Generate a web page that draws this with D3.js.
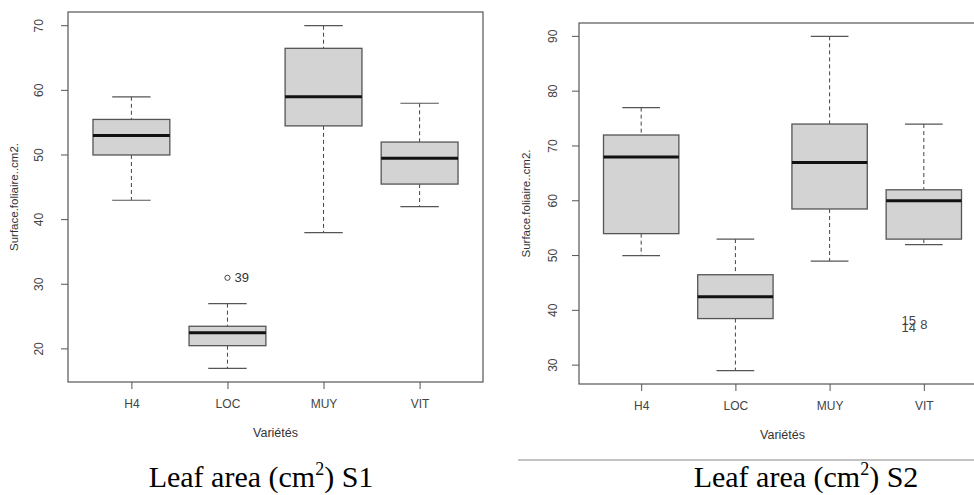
<!DOCTYPE html>
<html>
<head>
<meta charset="utf-8">
<script src="https://cdn.jsdelivr.net/npm/d3@7"></script>
<style>
  body { margin: 0; background: #fff; }
  svg { display: block; }
</style>
</head>
<body>
<div id="chart"></div>
<script>
const varietes = ['H4', 'LOC', 'MUY', 'VIT']

// S1 box statistics
const s1Min = [43, 17, 38, 42]
const s1Q1 = [50, 20.5, 54.5, 45.5]
const s1Median = [53, 22.5, 59, 49.5]
const s1Q3 = [55.5, 23.5, 66.5, 52]
const s1Max = [59, 27, 70, 58]
const s1OutVariete = ['LOC']
const s1OutValue = [31]
const s1OutLabel = ['39']
const s1Ticks = [20, 30, 40, 50, 60, 70]

// S2 box statistics
const s2Min = [50, 29, 49, 52]
const s2Q1 = [54, 38.5, 58.5, 53]
const s2Median = [68, 42.5, 67, 60]
const s2Q3 = [72, 46.5, 74, 62]
const s2Max = [77, 53, 90, 74]
const s2OutVariete = ['VIT', 'VIT', 'VIT']
const s2OutValue = [38.2, 36.9, 37.5]
const s2OutLabel = ['15', '14', '8']
const s2Ticks = [30, 40, 50, 60, 70, 80, 90]

const width = 974
const height = 495

const svg = d3
  .select('#chart')
  .append('svg')
  .attr('width', width)
  .attr('height', height)

function drawPanel(opts) {
  const g = svg.append('g')
  const { left, right, top, bottom } = opts

  const stats = varietes.map((v, i) => ({
    v,
    min: opts.min[i],
    q1: opts.q1[i],
    med: opts.median[i],
    q3: opts.q3[i],
    max: opts.max[i]
  }))
  const outs = opts.outValue.map((d, i) => ({
    v: opts.outVariete[i],
    value: d,
    label: opts.outLabel[i],
    i
  }))

  // R style 4% extension
  const lo = d3.min([...opts.min, ...opts.outValue])
  const hi = d3.max([...opts.max, ...opts.outValue])
  const pad = (hi - lo) * 0.04
  const y = d3.scaleLinear().domain([lo - pad, hi + pad]).range([bottom, top])

  const x = d3
    .scaleLinear()
    .domain([0.34, varietes.length + 0.66])
    .range([left, right])
  const pos = v => x(varietes.indexOf(v) + 1)
  const bw = x(0.8) - x(0)

  const boxes = g
    .selectAll('.box')
    .data(stats)
    .enter()
    .append('g')
    .attr('class', 'box')

  // whiskers
  boxes
    .append('line')
    .attr('x1', d => pos(d.v))
    .attr('x2', d => pos(d.v))
    .attr('y1', d => y(d.max))
    .attr('y2', d => y(d.q3))
    .attr('stroke', '#444')
    .attr('stroke-dasharray', '4,3')
  boxes
    .append('line')
    .attr('x1', d => pos(d.v))
    .attr('x2', d => pos(d.v))
    .attr('y1', d => y(d.q1))
    .attr('y2', d => y(d.min))
    .attr('stroke', '#444')
    .attr('stroke-dasharray', '4,3')
  // staples
  boxes
    .selectAll('.staple')
    .data(d => [d.min, d.max].map(val => ({ v: d.v, val })))
    .enter()
    .append('line')
    .attr('x1', d => pos(d.v) - bw / 4)
    .attr('x2', d => pos(d.v) + bw / 4)
    .attr('y1', d => y(d.val))
    .attr('y2', d => y(d.val))
    .attr('stroke', '#555')
    .attr('stroke-width', 1.2)
  // box
  boxes
    .append('rect')
    .attr('x', d => pos(d.v) - bw / 2)
    .attr('width', bw)
    .attr('y', d => y(d.q3))
    .attr('height', d => y(d.q1) - y(d.q3))
    .attr('fill', '#d3d3d3')
    .attr('stroke', '#555')
    .attr('stroke-width', 1.3)
  // median
  boxes
    .append('line')
    .attr('x1', d => pos(d.v) - bw / 2)
    .attr('x2', d => pos(d.v) + bw / 2)
    .attr('y1', d => y(d.med))
    .attr('y2', d => y(d.med))
    .attr('stroke', '#111')
    .attr('stroke-width', 3)

  // outliers
  if (opts.id === 's1') {
    g.selectAll('.out')
      .data(outs)
      .enter()
      .append('circle')
      .attr('cx', d => pos(d.v))
      .attr('cy', d => y(d.value))
      .attr('r', 2.6)
      .attr('fill', 'none')
      .attr('stroke', '#444')
    g.selectAll('.out-label')
      .data(outs)
      .enter()
      .append('text')
      .attr('x', d => pos(d.v) + 7)
      .attr('y', d => y(d.value))
      .attr('dy', '0.35em')
      .attr('font-size', 13)
      .attr('font-family', 'Liberation Sans, Arial, sans-serif')
      .attr('fill', '#333')
      .text(d => d.label)
  } else {
    // labels of tied points overlap, as in the original
    g.selectAll('.out-label')
      .data(outs)
      .enter()
      .append('text')
      .attr('x', d => pos(d.v) + (d.i < 2 ? -15 : 0))
      .attr('y', d => y(d.value))
      .attr('dy', '0.35em')
      .attr('text-anchor', 'middle')
      .attr('font-size', 13)
      .attr('font-family', 'Liberation Sans, Arial, sans-serif')
      .attr('fill', '#444')
      .text(d => d.label)
  }

  // frame
  g.append('rect')
    .attr('x', left)
    .attr('y', top)
    .attr('width', right - left)
    .attr('height', bottom - top)
    .attr('fill', 'none')
    .attr('stroke', '#555')
    .attr('stroke-width', 1.2)

  // y axis
  const yAxis = g
    .append('g')
    .attr('transform', `translate(${left},0)`)
    .call(d3.axisLeft(y).tickValues(opts.ticks).tickSize(7).tickFormat(d3.format('d')))
  yAxis.select('.domain').remove()
  yAxis.selectAll('line').attr('stroke', '#555')
  yAxis.selectAll('.tick').attr('transform', null)
  yAxis.selectAll('.tick line').attr('y1', d => y(d)).attr('y2', d => y(d))
  yAxis
    .selectAll('text')
    .attr('x', null)
    .attr('dy', null)
    .attr('y', 0)
    .attr('text-anchor', 'middle')
    .attr('transform', d => `translate(${opts.yTickOffset},${y(d)}) rotate(-90)`)
    .attr('font-size', 12)
    .attr('font-family', 'Liberation Sans, Arial, sans-serif')
    .attr('fill', '#444')

  // x axis
  const xAxis = g
    .append('g')
    .attr('transform', `translate(0,${bottom})`)
    .call(
      d3
        .axisBottom(x)
        .tickValues(d3.range(1, varietes.length + 1))
        .tickSize(7)
        .tickFormat(i => varietes[i - 1])
    )
  xAxis.select('.domain').remove()
  xAxis.selectAll('line').attr('stroke', '#555')
  xAxis
    .selectAll('text')
    .attr('y', 17)
    .attr('font-size', 12)
    .attr('font-family', 'Liberation Sans, Arial, sans-serif')
    .attr('fill', '#444')

  // axis titles
  g.append('text')
    .attr('x', (left + right) / 2)
    .attr('y', bottom + 55)
    .attr('text-anchor', 'middle')
    .attr('font-size', 12.5)
    .attr('font-family', 'Liberation Sans, Arial, sans-serif')
    .attr('fill', '#333')
    .text('Variétés')
  g.append('text')
    .attr('transform', `translate(${opts.ylabX},${(top + bottom) / 2}) rotate(-90)`)
    .attr('text-anchor', 'middle')
    .attr('font-size', 11.5)
    .attr('font-family', 'Liberation Sans, Arial, sans-serif')
    .attr('fill', '#333')
    .text('Surface.foliaire..cm2.')

  // caption
  const cap = g
    .append('text')
    .attr('x', opts.capX)
    .attr('y', 487)
    .attr('text-anchor', 'middle')
    .attr('font-size', 30)
    .attr('font-family', 'Liberation Serif, Times New Roman, serif')
    .attr('fill', '#000')
  cap.append('tspan').text('Leaf area (cm')
  cap.append('tspan').attr('font-size', 18).attr('dy', -12).text('2')
  cap.append('tspan').attr('dy', 12).text(') ' + opts.caption)
}

drawPanel({
  id: 's1',
  left: 68,
  right: 483,
  top: 12,
  bottom: 382,
  min: s1Min,
  q1: s1Q1,
  median: s1Median,
  q3: s1Q3,
  max: s1Max,
  outVariete: s1OutVariete,
  outValue: s1OutValue,
  outLabel: s1OutLabel,
  ticks: s1Ticks,
  yTickOffset: -25,
  ylabX: 18,
  capX: 261,
  caption: 'S1'
})

drawPanel({
  id: 's2',
  left: 579,
  right: 986,
  top: 23,
  bottom: 384,
  min: s2Min,
  q1: s2Q1,
  median: s2Median,
  q3: s2Q3,
  max: s2Max,
  outVariete: s2OutVariete,
  outValue: s2OutValue,
  outLabel: s2OutLabel,
  ticks: s2Ticks,
  yTickOffset: -22,
  ylabX: 530,
  capX: 806,
  caption: 'S2'
})

// separator above right caption
svg
  .append('line')
  .attr('x1', 518)
  .attr('x2', 974)
  .attr('y1', 460)
  .attr('y2', 460)
  .attr('stroke', '#888')
  .attr('stroke-width', 1)
</script>
</body>
</html>
